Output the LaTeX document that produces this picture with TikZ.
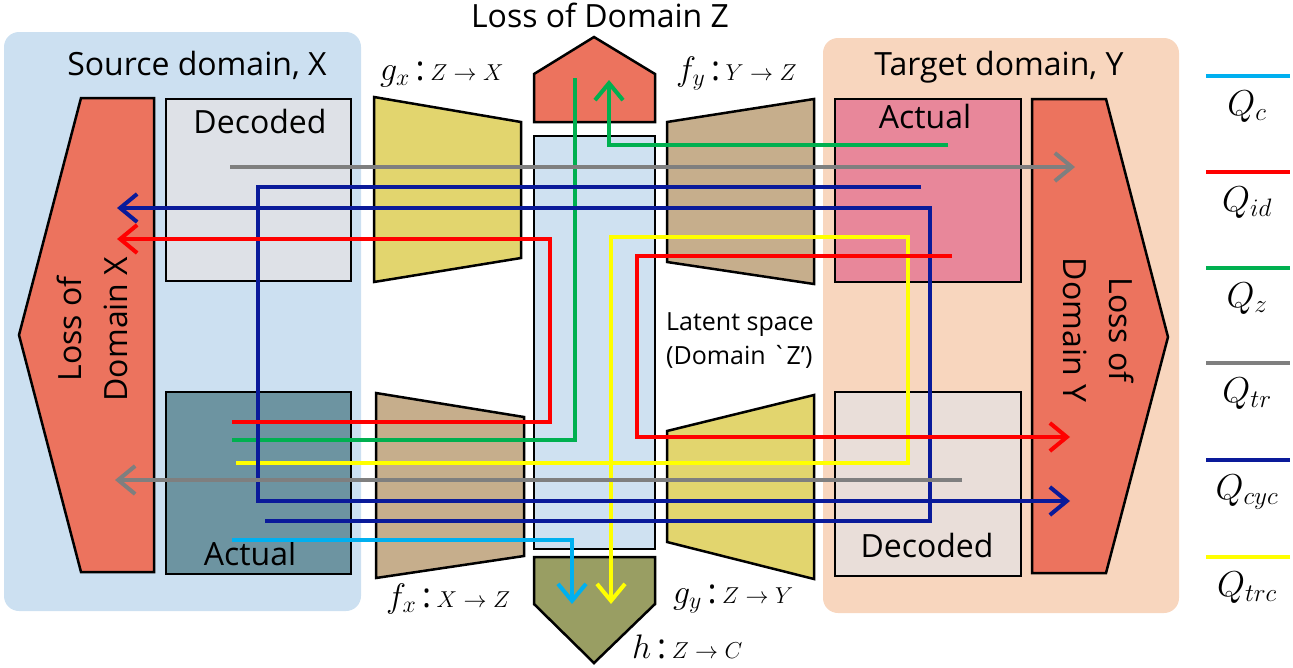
\RequirePackage{fix-cm}
\documentclass[tikz,border=0pt]{standalone}
\usepackage{fontspec}
\setmainfont{Open Sans}
\setmonofont{Open Sans}
\usetikzlibrary{arrows.meta}

\definecolor{srcpanel}{HTML}{CCE0F1}
\definecolor{tgtpanel}{HTML}{F8D6BE}
\definecolor{losscol}{HTML}{EC735E}
\definecolor{decX}{HTML}{DEE1E7}
\definecolor{actX}{HTML}{6D94A1}
\definecolor{decY}{HTML}{E9DED9}
\definecolor{actY}{HTML}{E8879A}
\definecolor{netyel}{HTML}{E2D56E}
\definecolor{nettan}{HTML}{C6AE8C}
\definecolor{latent}{HTML}{CFE1F1}
\definecolor{clsolive}{HTML}{999E63}
\definecolor{qc}{HTML}{00B0F0}
\definecolor{qid}{HTML}{FF0000}
\definecolor{qz}{HTML}{00B050}
\definecolor{qtr}{HTML}{7F7F7F}
\definecolor{qcyc}{HTML}{0A1A9A}
\definecolor{qtrc}{HTML}{FFFF00}

\newcommand\maptext[3]{{\fontsize{34}{34}\selectfont$#1$\,:\,}{\fontsize{23}{23}\selectfont$#2\rightarrow #3$}}

\begin{document}
\begin{tikzpicture}[x=1pt,y=-1pt,
  outlined/.style={draw=black,line width=2.5pt,line join=miter},
  flow/.style={line width=4pt,line join=miter},
  tip/.style={-{Straight Barb[length=17pt,width=28pt]}},
  bigtext/.style={font=\fontsize{32}{38}\selectfont,inner sep=0pt},
  maplabel/.style={anchor=base west,inner sep=0pt},
  legline/.style={line width=4pt},
  leglabel/.style={anchor=base,inner sep=0pt,font=\fontsize{36}{40}\selectfont}]

\useasboundingbox (0,0) rectangle (1293,667);

% domain panels
\fill[srcpanel,rounded corners=15pt] (4,32) rectangle (361,611);
\fill[tgtpanel,rounded corners=15pt] (823,38) rectangle (1179,613);
\node[bigtext,anchor=base] (srctitle) at (197,75) {Source domain, X};
\node[bigtext,anchor=base] (tgttitle) at (999,75) {Target domain, Y};

% loss of domain X / Y
\draw[outlined,fill=losscol] (81,98) -- (154,98) -- (154,572) -- (81,572) -- (19,335) -- cycle;
\node[bigtext,rotate=90,align=center,font=\fontsize{32}{46}\selectfont] (lossX) at (92,329) {Loss of\\Domain X};
\draw[outlined,fill=losscol] (1032,99) -- (1106,99) -- (1168,337) -- (1106,573) -- (1032,573) -- cycle;
\node[bigtext,rotate=-90,align=center,font=\fontsize{32}{46}\selectfont] (lossY) at (1099,330) {Loss of\\Domain Y};

% image boxes
\draw[outlined,fill=decX] (166,99) rectangle (351,281);
\node[bigtext,anchor=base] (decXt) at (260,133) {Decoded};
\draw[outlined,fill=actX] (166,392) rectangle (351,574);
\node[bigtext,anchor=base] (actXt) at (250,565) {Actual};
\draw[outlined,fill=actY] (835,99) rectangle (1021,282);
\node[bigtext,anchor=base] (actYt) at (925,128) {Actual};
\draw[outlined,fill=decY] (835,392) rectangle (1021,576);
\node[bigtext,anchor=base] (decYt) at (927,557) {Decoded};

% encoders and decoders
\draw[outlined,fill=netyel] (374,97) -- (521,122) -- (521,258) -- (374,282) -- cycle;
\draw[outlined,fill=nettan] (376,393) -- (524,417) -- (524,556) -- (376,578) -- cycle;
\draw[outlined,fill=nettan] (667,122) -- (814,99) -- (814,284) -- (667,262) -- cycle;
\draw[outlined,fill=netyel] (667,431) -- (814,395) -- (814,579) -- (667,542) -- cycle;

\node[maplabel] (gxl) at (380,80) {\maptext{g_x}{Z}{X}};
\node[maplabel] (fyl) at (676,80) {\maptext{f_y}{Y}{Z}};
\node[maplabel] (fxl) at (386,607) {\maptext{f_x}{X}{Z}};
\node[maplabel] (gyl) at (673,603) {\maptext{g_y}{Z}{Y}};
\node[maplabel] (hl) at (632,658) {\maptext{h}{Z}{C}};

% latent space, loss of domain Z and classifier
\draw[outlined,fill=latent] (534,136) rectangle (655,549);
\draw[outlined,fill=losscol] (534,122) -- (534,74) -- (594,37) -- (655,74) -- (655,122) -- cycle;
\node[bigtext,anchor=base] (lossZ) at (600,27) {Loss of Domain Z};
\draw[outlined,fill=clsolive] (534,557) -- (655,557) -- (655,604) -- (594,663) -- (534,604) -- cycle;
\node[inner sep=0pt,align=left,anchor=base west,font=\fontsize{25}{34}\selectfont] (latentl) at (666,364)
  {Latent space\\(Domain {\ttfamily\symbol{"60}}Z’)};

% loss paths
\coordinate (trcS) at (236,463);  \coordinate (trcE) at (611,604);
\draw[flow,tip,qtrc] (trcS) -- (908,463) -- (908,237) -- (611,237) -- (trcE);
\coordinate (cS) at (232,540);    \coordinate (cE) at (572,604);
\draw[flow,tip,qc] (cS) -- (572,540) -- (cE);
\coordinate (zaS) at (232,440);   \coordinate (zaE) at (575,78);
\draw[flow,qz] (zaS) -- (575,440) -- (zaE);
\coordinate (zbS) at (948,145);   \coordinate (zbE) at (609,80);
\draw[flow,tip,qz] (zbS) -- (609,145) -- (zbE);
\coordinate (cycaS) at (921,187); \coordinate (cycaE) at (1070,501);
\draw[flow,tip,qcyc] (cycaS) -- (258,187) -- (258,501) -- (cycaE);
\coordinate (cycbS) at (265,521); \coordinate (cycbE) at (117,208);
\draw[flow,tip,qcyc] (cycbS) -- (930,521) -- (930,208) -- (cycbE);
\coordinate (idaS) at (952,256);  \coordinate (idaE) at (1070,437);
\draw[flow,tip,qid] (idaS) -- (637,256) -- (637,437) -- (idaE);
\coordinate (idbS) at (232,422);  \coordinate (idbE) at (117,239);
\draw[flow,tip,qid] (idbS) -- (550,422) -- (550,239) -- (idbE);
\coordinate (traS) at (230,167);  \coordinate (traE) at (1075,167);
\draw[flow,tip,qtr] (traS) -- (traE);
\coordinate (trbS) at (962,480);  \coordinate (trbE) at (115,480);
\draw[flow,tip,qtr] (trbS) -- (trbE);

% legend
\draw[legline,qc]   (1206,76)  -- (1290,76);
\node[leglabel] (lc)   at (1247,115) {$Q_c$};
\draw[legline,qid]  (1206,172) -- (1290,172);
\node[leglabel] (lid)  at (1247,211) {$Q_{id}$};
\draw[legline,qz]   (1206,268) -- (1290,268);
\node[leglabel] (lz)   at (1247,307) {$Q_z$};
\draw[legline,qtr]  (1206,363) -- (1290,363);
\node[leglabel] (ltr)  at (1247,402) {$Q_{tr}$};
\draw[legline,qcyc] (1206,460) -- (1290,460);
\node[leglabel] (lcyc) at (1247,499) {$Q_{cyc}$};
\draw[legline,qtrc] (1206,557) -- (1290,557);
\node[leglabel] (ltrc) at (1247,596) {$Q_{trc}$};
\end{tikzpicture}
\end{document}
